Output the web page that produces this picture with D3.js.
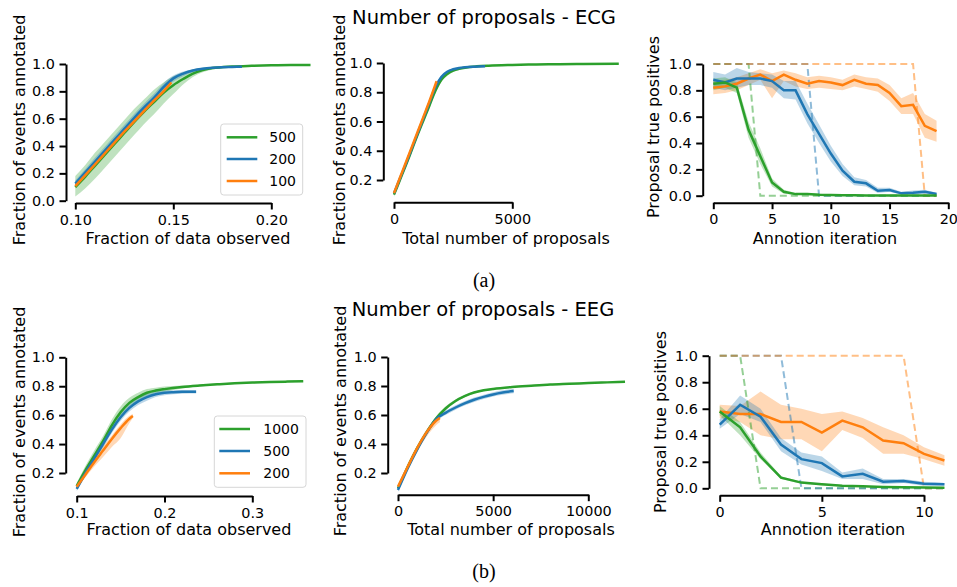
<!DOCTYPE html>
<html>
<head>
<meta charset="utf-8">
<script src="https://cdn.jsdelivr.net/npm/d3@7"></script>
<style>
body { margin: 0; background: #fff; }
text { font-family: "DejaVu Sans", sans-serif; }
text.caption { font-family: "Liberation Serif", serif; }
</style>
</head>
<body>
<script>
var green = "#2ca02c", blue = "#1f77b4", orange = "#ff7f0e";

// ---- (a) ECG : fraction of data observed
var a1GX = [0.100,0.105,0.110,0.115,0.120,0.125,0.130,0.135,0.140,0.145,0.150,0.155,0.160,0.165,0.170,0.180,0.190,0.200,0.210,0.220];
var a1GY = [0.10,0.175,0.255,0.335,0.415,0.495,0.575,0.65,0.72,0.79,0.845,0.89,0.93,0.955,0.97,0.982,0.987,0.99,0.992,0.993];
var a1GLo = [0.03,0.09,0.16,0.24,0.32,0.40,0.48,0.56,0.63,0.71,0.78,0.85,0.905,0.94,0.96,0.977,0.984,0.988,0.99,0.991];
var a1GHi = [0.18,0.26,0.35,0.43,0.51,0.59,0.67,0.74,0.81,0.865,0.91,0.94,0.96,0.972,0.98,0.987,0.99,0.992,0.994,0.995];
var a1BX = [0.100,0.105,0.110,0.115,0.120,0.125,0.130,0.135,0.140,0.145,0.150,0.155,0.160,0.165,0.170,0.175,0.180,0.185];
var a1BY = [0.125,0.205,0.285,0.365,0.445,0.525,0.605,0.68,0.75,0.83,0.895,0.93,0.952,0.965,0.972,0.976,0.978,0.98];
var a1BLo = [0.10,0.18,0.255,0.335,0.415,0.495,0.575,0.65,0.72,0.80,0.87,0.91,0.94,0.957,0.966,0.971,0.974,0.976];
var a1BHi = [0.15,0.23,0.315,0.395,0.475,0.555,0.635,0.71,0.78,0.86,0.915,0.945,0.962,0.972,0.978,0.981,0.982,0.984];
var a1OX = [0.100,0.105,0.110,0.115,0.120,0.125,0.130,0.135,0.140,0.145,0.149];
var a1OY = [0.107,0.185,0.265,0.345,0.425,0.505,0.58,0.655,0.73,0.80,0.865];
var a1OLo = [0.09,0.17,0.25,0.33,0.41,0.49,0.565,0.64,0.715,0.785,0.85];
var a1OHi = [0.125,0.20,0.28,0.36,0.44,0.52,0.595,0.67,0.745,0.815,0.88];

// ---- (a) ECG : total number of proposals
var a2GX = [0,250,500,750,1000,1250,1500,1750,2000,2250,2500,2750,3000,3500,4000,5000,6000,7000,8000,9500];
var a2GY = [0.10,0.20,0.30,0.405,0.51,0.61,0.71,0.81,0.885,0.925,0.948,0.96,0.968,0.977,0.982,0.987,0.99,0.992,0.994,0.995];
var a2GLo = [0.085,0.185,0.285,0.39,0.495,0.595,0.695,0.795,0.87,0.912,0.938,0.952,0.962,0.972,0.978,0.984,0.988,0.99,0.992,0.993];
var a2GHi = [0.115,0.215,0.315,0.42,0.525,0.625,0.725,0.825,0.90,0.938,0.958,0.968,0.974,0.982,0.986,0.99,0.992,0.994,0.996,0.997];
var a2BX = [0,250,500,750,1000,1250,1500,1750,2000,2250,2500,2750,3000,3400,3850];
var a2BY = [0.11,0.21,0.31,0.415,0.52,0.625,0.73,0.835,0.905,0.94,0.957,0.966,0.971,0.975,0.977];
var a2BLo = [0.10,0.20,0.30,0.405,0.51,0.615,0.72,0.825,0.895,0.932,0.95,0.96,0.966,0.97,0.972];
var a2BHi = [0.12,0.22,0.32,0.425,0.53,0.635,0.74,0.845,0.915,0.948,0.964,0.972,0.976,0.98,0.982];
var a2OX = [0,250,500,750,1000,1250,1500,1800];
var a2OY = [0.11,0.215,0.32,0.425,0.53,0.635,0.74,0.875];
var a2OLo = [0.102,0.207,0.312,0.417,0.522,0.627,0.732,0.867];
var a2OHi = [0.118,0.223,0.328,0.433,0.538,0.643,0.748,0.883];

// ---- (a) ECG : annotation iteration
var iterA = [0,1,2,3,4,5,6,7,8,9,10,11,12,13,14,15,16,17,18,19];
var a3GY = [0.85,0.86,0.82,0.50,0.30,0.10,0.03,0.012,0.012,0.008,0.006,0.004,0.003,0.002,0.002,0.001,0.001,0.001,0.001,0.001];
var a3GLo = [0.80,0.82,0.78,0.44,0.24,0.07,0.015,0.005,0.005,0.003,0.002,0.001,0.001,0,0,0,0,0,0,0];
var a3GHi = [0.89,0.90,0.86,0.56,0.36,0.13,0.045,0.02,0.02,0.014,0.01,0.008,0.006,0.005,0.004,0.003,0.003,0.003,0.003,0.003];
var a3BY = [0.88,0.86,0.89,0.89,0.89,0.87,0.80,0.80,0.62,0.47,0.32,0.19,0.106,0.094,0.038,0.043,0.018,0.023,0.03,0.013];
var a3BLo = [0.82,0.80,0.82,0.84,0.84,0.82,0.74,0.73,0.55,0.40,0.26,0.15,0.08,0.07,0.02,0.03,0.008,0.01,0.015,0.005];
var a3BHi = [0.94,0.92,0.97,0.94,0.93,0.92,0.87,0.87,0.70,0.54,0.38,0.24,0.14,0.12,0.06,0.06,0.03,0.04,0.045,0.022];
var a3OY = [0.82,0.83,0.85,0.89,0.92,0.87,0.92,0.88,0.85,0.87,0.86,0.84,0.88,0.85,0.84,0.78,0.68,0.69,0.53,0.49];
var a3OLo = [0.77,0.78,0.80,0.84,0.88,0.74,0.87,0.83,0.81,0.82,0.81,0.80,0.83,0.81,0.79,0.72,0.62,0.62,0.44,0.41];
var a3OHi = [0.87,0.88,0.90,0.93,0.96,0.93,0.95,0.93,0.90,0.91,0.90,0.88,0.92,0.90,0.89,0.84,0.74,0.78,0.62,0.57];
var oracleAG = [1,1,1,1,0,0,0,0,0,0,0,0,0,0,0,0,0,0,0,0];
var oracleAB = [1,1,1,1,1,1,1,1,1,0,0,0,0,0,0,0,0,0,0,0];
var oracleAO = [1,1,1,1,1,1,1,1,1,1,1,1,1,1,1,1,1,1,0,0];

// ---- (b) EEG : fraction of data observed
var b1GX = [0.100,0.110,0.120,0.130,0.140,0.150,0.160,0.170,0.180,0.190,0.200,0.220,0.240,0.260,0.280,0.300,0.320,0.340,0.358];
var b1GY = [0.11,0.22,0.32,0.42,0.53,0.62,0.685,0.725,0.755,0.77,0.78,0.795,0.805,0.813,0.82,0.825,0.829,0.832,0.835];
var b1GLo = [0.09,0.19,0.29,0.385,0.49,0.58,0.65,0.695,0.73,0.75,0.762,0.785,0.798,0.807,0.815,0.82,0.825,0.828,0.831];
var b1GHi = [0.13,0.25,0.355,0.455,0.57,0.66,0.72,0.755,0.78,0.79,0.798,0.805,0.812,0.819,0.825,0.83,0.833,0.836,0.839];
var b1BX = [0.100,0.110,0.120,0.130,0.140,0.150,0.160,0.170,0.180,0.190,0.200,0.210,0.220,0.236];
var b1BY = [0.09,0.20,0.30,0.40,0.50,0.585,0.65,0.695,0.725,0.745,0.755,0.759,0.761,0.762];
var b1BLo = [0.075,0.18,0.28,0.375,0.475,0.56,0.625,0.67,0.70,0.725,0.738,0.745,0.748,0.75];
var b1BHi = [0.105,0.22,0.32,0.425,0.525,0.61,0.675,0.72,0.75,0.765,0.772,0.773,0.774,0.774];
var b1OX = [0.100,0.110,0.120,0.130,0.140,0.150,0.160,0.164];
var b1OY = [0.105,0.19,0.275,0.355,0.435,0.51,0.575,0.594];
var b1OLo = [0.09,0.17,0.245,0.31,0.38,0.44,0.545,0.58];
var b1OHi = [0.12,0.21,0.30,0.385,0.46,0.535,0.595,0.608];

// ---- (b) EEG : total number of proposals
var b2GX = [0,500,1000,1500,2000,2500,3000,3500,4000,4500,5000,6000,7000,8000,9000,10000,11000,11930];
var b2GY = [0.094,0.24,0.37,0.48,0.575,0.645,0.695,0.73,0.755,0.77,0.78,0.793,0.802,0.81,0.815,0.82,0.825,0.83];
var b2GLo = [0.08,0.225,0.355,0.465,0.56,0.632,0.685,0.722,0.748,0.764,0.775,0.789,0.798,0.806,0.811,0.816,0.821,0.826];
var b2GHi = [0.108,0.255,0.385,0.495,0.59,0.658,0.705,0.738,0.762,0.776,0.785,0.797,0.806,0.814,0.819,0.824,0.829,0.834];
var b2BX = [0,500,1000,1500,2000,2500,3000,3500,4000,4500,5000,5500,6078];
var b2BY = [0.083,0.23,0.36,0.475,0.57,0.615,0.65,0.68,0.705,0.725,0.742,0.755,0.765];
var b2BLo = [0.07,0.215,0.345,0.46,0.555,0.60,0.635,0.665,0.69,0.71,0.727,0.74,0.75];
var b2BHi = [0.096,0.245,0.375,0.49,0.585,0.63,0.665,0.695,0.72,0.74,0.757,0.77,0.78];
var b2OX = [0,500,1000,1500,2000,2200];
var b2OY = [0.106,0.24,0.37,0.48,0.56,0.58];
var b2OLo = [0.09,0.22,0.345,0.45,0.53,0.55];
var b2OHi = [0.12,0.26,0.39,0.50,0.58,0.60];

// ---- (b) EEG : annotation iteration
var iterB = [0,1,2,3,4,5,6,7,8,9,10,11];
var b3OY = [0.58,0.56,0.56,0.50,0.50,0.42,0.51,0.46,0.36,0.34,0.26,0.21];
var b3OLo = [0.53,0.50,0.40,0.37,0.37,0.28,0.44,0.38,0.26,0.26,0.22,0.17];
var b3OHi = [0.63,0.62,0.73,0.63,0.60,0.56,0.58,0.53,0.46,0.40,0.31,0.25];
var b3BY = [0.48,0.63,0.54,0.33,0.22,0.19,0.09,0.11,0.05,0.055,0.035,0.03];
var b3BLo = [0.45,0.56,0.50,0.28,0.18,0.13,0.07,0.07,0.03,0.04,0.02,0.02];
var b3BHi = [0.52,0.70,0.60,0.38,0.27,0.24,0.12,0.15,0.07,0.07,0.05,0.04];
var b3GY = [0.58,0.46,0.24,0.08,0.043,0.03,0.02,0.015,0.01,0.008,0.006,0.005];
var b3GLo = [0.55,0.40,0.22,0.07,0.035,0.022,0.015,0.01,0.007,0.005,0.004,0.003];
var b3GHi = [0.62,0.50,0.27,0.09,0.05,0.036,0.025,0.02,0.014,0.011,0.009,0.008];
var oracleBG = [1,1,0,0,0,0,0,0,0,0,0,0];
var oracleBB = [1,1,1,1,0,0,0,0,0,0,0,0];
var oracleBO = [1,1,1,1,1,1,1,1,1,1,0,0];

var fracTicks = [0, 0.2, 0.4, 0.6, 0.8, 1.0];
var fracTicks2 = [0.2, 0.4, 0.6, 0.8, 1.0];
var legendA = ["500", "200", "100"];
var legendB = ["1000", "500", "200"];

var svg = d3.select("body").append("svg").attr("width", 957).attr("height", 587);
svg.append("rect").attr("width", 957).attr("height", 587).attr("fill", "#fff");

function drawPanel(p) {
  var x = d3.scaleLinear().domain(p.xd).range(p.xr);
  var y = d3.scaleLinear().domain(p.yd).range(p.yr);
  var g = svg.append("g");
  var curve = p.smooth ? d3.curveMonotoneX : d3.curveLinear;

  var area = d3.area().curve(curve)
    .x(function(d){ return x(d[0]); })
    .y0(function(d){ return y(d[1]); })
    .y1(function(d){ return y(d[2]); });
  var line = d3.line().curve(curve)
    .x(function(d){ return x(d[0]); })
    .y(function(d){ return y(d[1]); });

  p.series.forEach(function(s){
    g.append("path").datum(d3.zip(s.x, s.lo, s.hi)).attr("d", area)
      .attr("fill", s.c).attr("fill-opacity", 0.3);
  });
  (p.oracle || []).forEach(function(s){
    g.append("path").datum(d3.zip(s.x, s.y)).attr("d", d3.line().x(function(d){return x(d[0]);}).y(function(d){return y(d[1]);}))
      .attr("fill", "none").attr("stroke", s.c).attr("stroke-opacity", 0.5)
      .attr("stroke-width", 2).attr("stroke-dasharray", "7,4");
  });
  p.series.forEach(function(s){
    g.append("path").datum(d3.zip(s.x, s.y)).attr("d", line)
      .attr("fill", "none").attr("stroke", s.c).attr("stroke-width", 2.5);
  });

  var xa = d3.axisBottom(x).tickValues(p.xt).tickFormat(d3.format(p.xf))
    .tickSize(6.5).tickSizeOuter(0).tickPadding(5);
  var ya = d3.axisLeft(y).tickValues(p.yt).tickFormat(d3.format(".1f"))
    .tickSize(6.5).tickSizeOuter(0).tickPadding(4.5);
  var gx = svg.append("g").attr("transform", "translate(0," + p.xSpine + ")").call(xa);
  var gy = svg.append("g").attr("transform", "translate(" + p.ySpine + ",0)").call(ya);
  [gx, gy].forEach(function(a){
    a.attr("font-size", 14.4);
    a.select(".domain").attr("stroke", "#000").attr("stroke-width", 2);
    a.selectAll(".tick line").attr("stroke", "#000").attr("stroke-width", 2);
    a.selectAll(".tick text").attr("fill", "#000");
  });

  svg.append("text").attr("x", p.xl[0]).attr("y", p.xl[1]).attr("text-anchor", "middle")
    .attr("font-size", 16).text(p.xlabel);
  svg.append("text").attr("transform", "translate(" + p.yl[0] + "," + p.yl[1] + ") rotate(-90)")
    .attr("text-anchor", "middle").attr("font-size", 16).text(p.ylabel);
  if (p.title) {
    svg.append("text").attr("x", p.title[0]).attr("y", p.title[1]).attr("text-anchor", "middle")
      .attr("font-size", 19.5).text(p.title[2]);
  }
  if (p.legend) {
    var L = p.legend;
    var lg = svg.append("g");
    lg.append("rect").attr("x", L.x).attr("y", L.y).attr("width", L.w).attr("height", L.h)
      .attr("rx", 3).attr("fill", "#fff").attr("fill-opacity", 0.8)
      .attr("stroke", "#d6d6d6").attr("stroke-width", 1);
    L.labels.forEach(function(t, i){
      var ry = L.rows[i];
      lg.append("line").attr("x1", L.h0).attr("x2", L.h1).attr("y1", ry).attr("y2", ry)
        .attr("stroke", L.colors[i]).attr("stroke-width", 2.5);
      lg.append("text").attr("x", L.tx).attr("y", ry).attr("dy", "0.36em")
        .attr("font-size", 14).text(t);
    });
  }
}

drawPanel({
  xd: [0.10, 0.20], xr: [75.3, 271.3], yd: [0, 1], yr: [200.7, 64],
  ySpine: 66, xSpine: 203, xt: [0.10, 0.15, 0.20], xf: ".2f", yt: fracTicks, smooth: true,
  xlabel: "Fraction of data observed", xl: [188, 244],
  ylabel: "Fraction of events annotated", yl: [24.5, 130],
  series: [
    {x: a1GX, y: a1GY, lo: a1GLo, hi: a1GHi, c: green},
    {x: a1BX, y: a1BY, lo: a1BLo, hi: a1BHi, c: blue},
    {x: a1OX, y: a1OY, lo: a1OLo, hi: a1OHi, c: orange}
  ],
  legend: {x: 220.7, y: 124, w: 82, h: 71, h0: 226.7, h1: 257.3, tx: 269.3,
           rows: [137.3, 159, 181], labels: legendA, colors: [green, blue, orange]}
});

drawPanel({
  xd: [0, 5000], xr: [394, 512.3], yd: [0.2, 1], yr: [180, 63],
  ySpine: 383.3, xSpine: 202.3, xt: [0, 5000], xf: "d", yt: fracTicks2, smooth: true,
  xlabel: "Total number of proposals", xl: [506, 244.3],
  ylabel: "Fraction of events annotated", yl: [345, 130],
  title: [484, 24.3, "Number of proposals - ECG"],
  series: [
    {x: a2GX, y: a2GY, lo: a2GLo, hi: a2GHi, c: green},
    {x: a2BX, y: a2BY, lo: a2BLo, hi: a2BHi, c: blue},
    {x: a2OX, y: a2OY, lo: a2OLo, hi: a2OHi, c: orange}
  ]
});

drawPanel({
  xd: [0, 20], xr: [713.3, 948.3], yd: [0, 1], yr: [195.7, 64],
  ySpine: 702.7, xSpine: 202.7, xt: [0, 5, 10, 15, 20], xf: "d", yt: fracTicks,
  xlabel: "Annotion iteration", xl: [825, 244],
  ylabel: "Proposal true positives", yl: [659, 127],
  oracle: [
    {x: iterA, y: oracleAG, c: green},
    {x: iterA, y: oracleAB, c: blue},
    {x: iterA, y: oracleAO, c: orange}
  ],
  series: [
    {x: iterA, y: a3OY, lo: a3OLo, hi: a3OHi, c: orange},
    {x: iterA, y: a3BY, lo: a3BLo, hi: a3BHi, c: blue},
    {x: iterA, y: a3GY, lo: a3GLo, hi: a3GHi, c: green}
  ]
});

drawPanel({
  xd: [0.1, 0.3], xr: [76.7, 252.3], yd: [0.2, 1], yr: [473, 357.3],
  ySpine: 65.7, xSpine: 496, xt: [0.1, 0.2, 0.3], xf: ".1f", yt: fracTicks2, smooth: true,
  xlabel: "Fraction of data observed", xl: [189, 535],
  ylabel: "Fraction of events annotated", yl: [25, 422],
  series: [
    {x: b1GX, y: b1GY, lo: b1GLo, hi: b1GHi, c: green},
    {x: b1BX, y: b1BY, lo: b1BLo, hi: b1BHi, c: blue},
    {x: b1OX, y: b1OY, lo: b1OLo, hi: b1OHi, c: orange}
  ],
  legend: {x: 214.3, y: 416, w: 91.7, h: 71.3, h0: 219.3, h1: 250, tx: 263.3,
           rows: [429, 451, 473.3], labels: legendB, colors: [green, blue, orange]}
});

drawPanel({
  xd: [0, 10000], xr: [398, 588.3], yd: [0.2, 1], yr: [473, 357],
  ySpine: 387.7, xSpine: 494.7, xt: [0, 5000, 10000], xf: "d", yt: fracTicks2, smooth: true,
  xlabel: "Total number of proposals", xl: [511, 535],
  ylabel: "Fraction of events annotated", yl: [346, 421],
  title: [483, 316, "Number of proposals - EEG"],
  series: [
    {x: b2GX, y: b2GY, lo: b2GLo, hi: b2GHi, c: green},
    {x: b2BX, y: b2BY, lo: b2BLo, hi: b2BHi, c: blue},
    {x: b2OX, y: b2OY, lo: b2OLo, hi: b2OHi, c: orange}
  ]
});

drawPanel({
  xd: [0, 10], xr: [719.7, 924], yd: [0, 1], yr: [488.3, 355.7],
  ySpine: 709, xSpine: 495.3, xt: [0, 5, 10], xf: "d", yt: fracTicks,
  xlabel: "Annotion iteration", xl: [833, 535],
  ylabel: "Proposal true positives", yl: [665.5, 422],
  oracle: [
    {x: iterB, y: oracleBG, c: green},
    {x: iterB, y: oracleBB, c: blue},
    {x: iterB, y: oracleBO, c: orange}
  ],
  series: [
    {x: iterB, y: b3OY, lo: b3OLo, hi: b3OHi, c: orange},
    {x: iterB, y: b3BY, lo: b3BLo, hi: b3BHi, c: blue},
    {x: iterB, y: b3GY, lo: b3GLo, hi: b3GHi, c: green}
  ]
});

svg.append("text").attr("class", "caption").attr("x", 484).attr("y", 287).attr("text-anchor", "middle")
  .attr("font-size", 20).text("(a)");
svg.append("text").attr("class", "caption").attr("x", 484).attr("y", 578).attr("text-anchor", "middle")
  .attr("font-size", 20).text("(b)");
</script>
</body>
</html>
